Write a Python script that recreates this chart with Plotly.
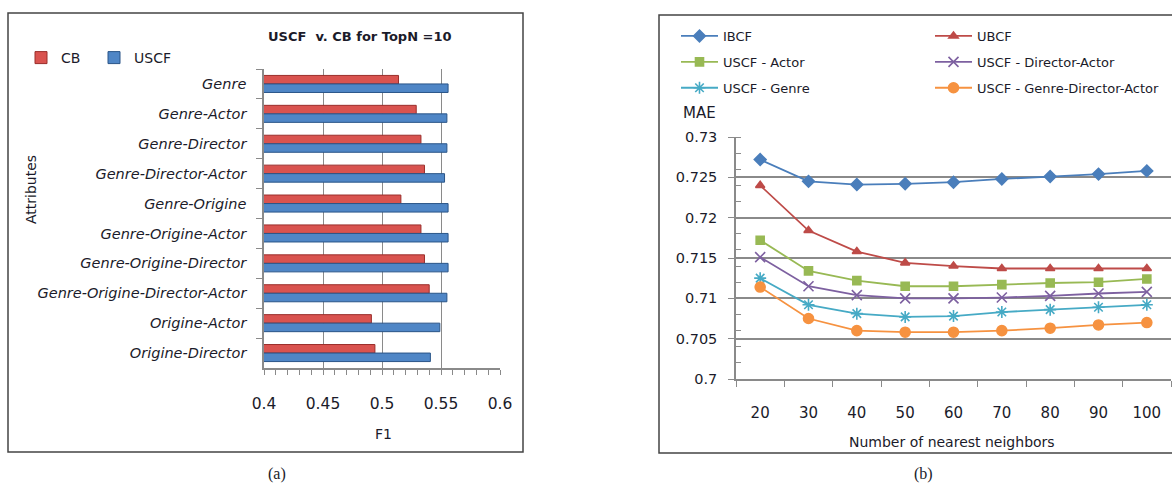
import plotly.graph_objects as go

# ---- (a) F1 per attribute set, CB vs USCF (TopN = 10) ----
attributes = [
    "Genre", "Genre-Actor", "Genre-Director", "Genre-Director-Actor",
    "Genre-Origine", "Genre-Origine-Actor", "Genre-Origine-Director",
    "Genre-Origine-Director-Actor", "Origine-Actor", "Origine-Director",
]
cb_f1 = [0.514, 0.529, 0.533, 0.536, 0.516, 0.533, 0.536, 0.540, 0.491, 0.494]
uscf_f1 = [0.556, 0.555, 0.555, 0.553, 0.556, 0.556, 0.556, 0.555, 0.549, 0.541]
f1_ticks = [0.4, 0.45, 0.5, 0.55, 0.6]

# ---- (b) MAE vs number of nearest neighbours ----
neighbors = ["20", "30", "40", "50", "60", "70", "80", "90", "100"]
mae_ibcf = [0.7272, 0.7245, 0.7241, 0.7242, 0.7244, 0.7248, 0.7251, 0.7254, 0.7258]
mae_ubcf = [0.7240, 0.7184, 0.7158, 0.7144, 0.7140, 0.7137, 0.7137, 0.7137, 0.7137]
mae_actor = [0.7172, 0.7134, 0.7122, 0.7115, 0.7115, 0.7117, 0.7119, 0.7120, 0.7124]
mae_dir_actor = [0.7151, 0.7115, 0.7104, 0.7100, 0.7100, 0.7101, 0.7103, 0.7106, 0.7108]
mae_genre = [0.7125, 0.7092, 0.7081, 0.7077, 0.7078, 0.7083, 0.7086, 0.7089, 0.7092]
mae_gda = [0.7114, 0.7075, 0.7060, 0.7058, 0.7058, 0.7060, 0.7063, 0.7067, 0.7070]
mae_ticks = [0.7, 0.705, 0.71, 0.715, 0.72, 0.725, 0.73]

W, H = 1172, 487
FONT = "DejaVu Sans"
TXT = "#1b1b2a"


def px(x):
    return x / W


def py(y):
    return 1 - y / H


fig = go.Figure()

# legend ids: legend = CB, legend2 = USCF, legend3/4 = the two line columns
fig.add_trace(go.Bar(
    y=attributes, x=cb_f1, name="CB", orientation="h",
    xaxis="x", yaxis="y", legend="legend",
    marker=dict(color="#d9534f", line=dict(color="#9a2e2b", width=1)),
))
fig.add_trace(go.Bar(
    y=attributes, x=uscf_f1, name="USCF", orientation="h",
    xaxis="x", yaxis="y", legend="legend2",
    marker=dict(color="#4f86c6", line=dict(color="#2a5588", width=1)),
))

series = [
    ("IBCF", mae_ibcf, "#4a7ebb", "diamond", 9, "legend3"),
    ("UBCF", mae_ubcf, "#be4b48", "triangle-up", 8, "legend4"),
    ("USCF - Actor", mae_actor, "#98b954", "square", 8, "legend3"),
    ("USCF - Director-Actor", mae_dir_actor, "#7d60a0", "x-thin-open", 10, "legend4"),
    ("USCF - Genre", mae_genre, "#46aac5", "asterisk-open", 10, "legend3"),
    ("USCF - Genre-Director-Actor", mae_gda, "#f69240", "circle", 10, "legend4"),
]
for name, vals, col, sym, size, leg in series:
    fig.add_trace(go.Scatter(
        x=neighbors, y=vals, name=name, mode="lines+markers",
        xaxis="x2", yaxis="y2", legend=leg, legendgroup=name,
        line=dict(color=col, width=1.8),
        marker=dict(symbol=sym, size=size, color=col,
                    line=dict(color=col, width=1.6)),
    ))

axis_grey = "#8a8a8a"


def bar_legend(x):
    return dict(orientation="h", x=px(x), y=py(42), xanchor="left",
                yanchor="top", font=dict(size=14, family=FONT, color=TXT),
                itemwidth=30, bgcolor="rgba(0,0,0,0)")


def line_legend(x):
    return dict(orientation="v", x=px(x), y=py(21), xanchor="left",
                yanchor="top", font=dict(size=13, family=FONT, color=TXT),
                tracegroupgap=6, itemwidth=37, bgcolor="rgba(0,0,0,0)")


fig.update_layout(
    width=W, height=H,
    # fixed zero margins so paper coordinates map onto the whole canvas
    margin=dict(l=0, r=0, t=0, b=0, autoexpand=False),
    paper_bgcolor="white", plot_bgcolor="white",
    font=dict(family=FONT, color=TXT),
    showlegend=True,
    barmode="group", bargap=0.43, bargroupgap=0.0,
    xaxis=dict(
        domain=[px(264), px(500)], anchor="y",
        range=[0.4, 0.6], tickvals=f1_ticks,
        ticktext=[f"{v:g}" for v in f1_ticks],
        showgrid=True, gridcolor=axis_grey, gridwidth=1.2,
        showline=True, linecolor=axis_grey, linewidth=1.5,
        ticks="outside", ticklen=5, tickcolor=axis_grey,
        minor=dict(dtick=0.01, tick0=0.4, ticks="outside", ticklen=5,
                   tickcolor=axis_grey, showgrid=False),
        tickfont=dict(size=15.5, family=FONT, color=TXT),
        ticklabelstandoff=16, zeroline=False, fixedrange=True,
        automargin=False,
    ),
    yaxis=dict(
        domain=[py(368), py(69)], anchor="x",
        type="category", autorange="reversed",
        tickson="boundaries", ticks="outside", ticklen=6, tickcolor=axis_grey,
        showline=True, linecolor=axis_grey, linewidth=1.5, showgrid=False,
        tickfont=dict(size=14.5, family=FONT, color=TXT, style="italic"),
        ticklabelstandoff=13, automargin=False,
    ),
    xaxis2=dict(
        domain=[px(736), px(1171)], anchor="y2",
        type="category", range=[-0.5, 8.5],
        tickson="boundaries", ticks="outside", ticklen=6, tickcolor=axis_grey,
        showline=True, linecolor=axis_grey, linewidth=1.5, showgrid=False,
        tickfont=dict(size=15, family=FONT, color=TXT),
        ticklabelstandoff=19, automargin=False,
    ),
    yaxis2=dict(
        domain=[py(379), py(137)], anchor="x2",
        range=[0.7, 0.73], tickvals=mae_ticks,
        ticktext=[f"{v:g}" for v in mae_ticks],
        showgrid=True, gridcolor=axis_grey, gridwidth=1.5,
        showline=True, linecolor=axis_grey, linewidth=1.5,
        ticks="outside", ticklen=6, tickcolor=axis_grey,
        minor=dict(dtick=0.002, tick0=0.7, ticks="inside", ticklen=5,
                   tickcolor=axis_grey, showgrid=False),
        tickfont=dict(size=14.5, family=FONT, color=TXT),
        ticklabelstandoff=8, zeroline=False, automargin=False,
    ),
    legend=bar_legend(21),
    legend2=bar_legend(94),
    legend3=line_legend(676),
    legend4=line_legend(930),
)

frame = dict(color="#444444", width=1.5)
fig.add_shape(type="rect", xref="paper", yref="paper",
              x0=px(8), x1=px(523), y0=py(452), y1=py(13), line=frame)
fig.add_shape(type="rect", xref="paper", yref="paper",
              x0=px(659), x1=px(1180), y0=py(453), y1=py(15), line=frame)

notes = [
    ("<b>USCF  v. CB for TopN =10</b>", 360, 36.5, 13, 0, FONT),
    ("Attributes", 31, 190, 14, -90, FONT),
    ("F1", 383, 434, 14, 0, FONT),
    ("MAE", 699, 113, 15, 0, FONT),
    ("Number of nearest neighbors", 952, 442, 14, 0, FONT),
    ("(a)", 277, 474, 16, 0, "Liberation Serif"),
    ("(b)", 923, 474, 16, 0, "Liberation Serif"),
]
for text, x, y, size, ang, fam in notes:
    fig.add_annotation(text=text, xref="paper", yref="paper",
                       x=px(x), y=py(y), xanchor="center", yanchor="middle",
                       showarrow=False, textangle=ang,
                       font=dict(size=size, family=fam, color=TXT))

fig.write_html("out.html")
